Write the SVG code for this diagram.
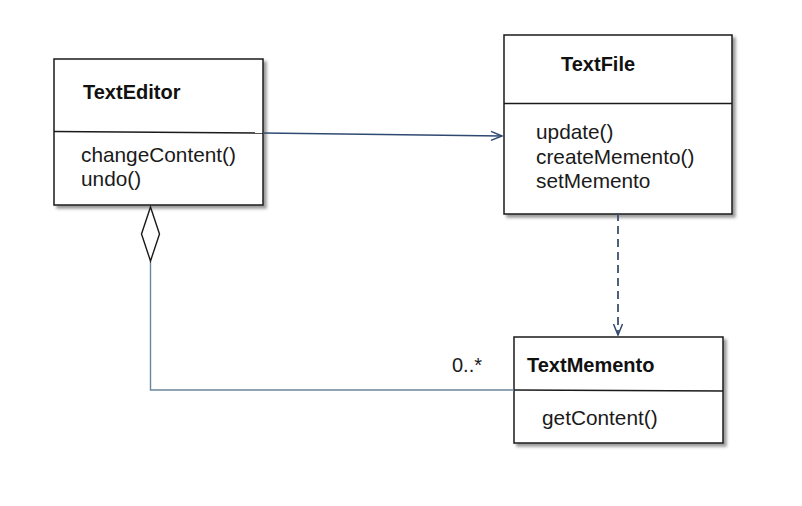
<svg xmlns="http://www.w3.org/2000/svg" width="802" height="506" viewBox="0 0 802 506">
<defs>
<filter id="sh" x="-10%" y="-10%" width="125%" height="125%">
<feDropShadow dx="3" dy="3" stdDeviation="1.6" flood-color="#555" flood-opacity="0.6"/>
</filter>
<marker id="open" markerWidth="14" markerHeight="12" refX="12" refY="6" orient="auto" markerUnits="userSpaceOnUse">
<path d="M1,1.5 L12,6 L1,10.5" fill="none" stroke="#2f4a70" stroke-width="1.5"/>
</marker>
</defs>
<style>
.box{fill:#fff;stroke:#1a1a1a;stroke-width:1.5;filter:url(#sh)}
.div{stroke:#1a1a1a;stroke-width:1.5}
.t{font-family:"Liberation Sans",Arial,sans-serif;font-weight:bold;font-size:20px;fill:#111}
.m{font-family:"Liberation Sans",Arial,sans-serif;font-size:20.8px;fill:#1a1a1a}
</style>
<rect width="802" height="506" fill="#fff"/>
<g id="TextEditor">
<rect class="box" x="54" y="59" width="209" height="146"/>
<line class="div" x1="54" y1="131.5" x2="263" y2="133"/>
<text class="t" x="83" y="99">TextEditor</text>
<text class="m" x="81" y="162">changeContent()</text>
<text class="m" x="81" y="186">undo()</text>
</g>
<g id="TextFile">
<rect class="box" x="504" y="35" width="228" height="179"/>
<line class="div" x1="504" y1="103.5" x2="732" y2="103.5"/>
<text class="t" x="561" y="71">TextFile</text>
<text class="m" x="536" y="139">update()</text>
<text class="m" x="536" y="164">createMemento()</text>
<text class="m" x="536" y="188">setMemento</text>
</g>
<g id="TextMemento">
<rect class="box" x="514" y="337" width="209" height="106"/>
<line class="div" x1="514" y1="390" x2="723" y2="391"/>
<text class="t" x="527" y="372">TextMemento</text>
<text class="m" x="542" y="425">getContent()</text>
</g>
<g id="connectors">
<line x1="263" y1="133" x2="502" y2="136" stroke="#2f4a70" stroke-width="1.3" marker-end="url(#open)"/>
<line x1="618" y1="213" x2="618" y2="335" stroke="#3d5070" stroke-width="1.8" stroke-dasharray="8,5" marker-end="url(#open)"/>
<polyline points="150.5,261 150.5,390 514,390" fill="none" stroke="#6a879e" stroke-width="1.4"/>
<path d="M150.5,207 L159.5,234 L150.5,261 L141.5,234 Z" fill="#fff" stroke="#1a1a1a" stroke-width="1.4"/>
<text class="m" x="452" y="372" style="font-size:20px">0..*</text>
</g>
</svg>
